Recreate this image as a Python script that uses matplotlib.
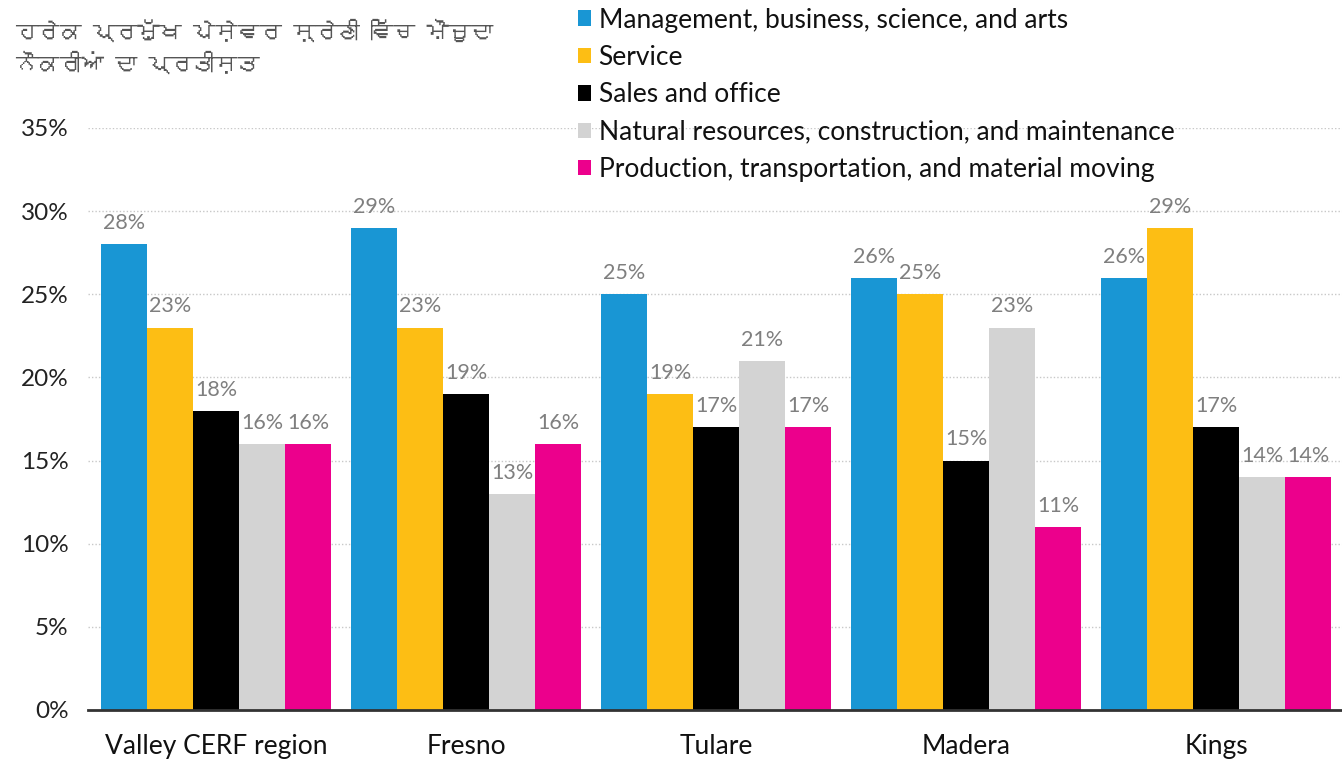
import matplotlib
matplotlib.use('Agg')
import matplotlib.pyplot as plt
import numpy as np
from matplotlib import font_manager
from matplotlib.ft2font import FT2Font
from matplotlib.patches import Patch

regions = ['Valley CERF region', 'Fresno', 'Tulare', 'Madera', 'Kings']
series = ['Management, business, science, and arts', 'Service', 'Sales and office',
          'Natural resources, construction, and maintenance',
          'Production, transportation, and material moving']
management = [28, 29, 25, 26, 26]
service = [23, 23, 19, 25, 29]
sales = [18, 19, 17, 15, 17]
natural = [16, 13, 21, 23, 14]
production = [16, 16, 17, 11, 14]
colors = ['#1996d4', '#fdbe14', '#000000', '#d3d3d3', '#ec008c']
title = 'ਹਰੇਕ ਪ੍ਰਮੁੱਖ ਪੇਸ਼ੇਵਰ ਸ਼੍ਰੇਣੀ ਵਿੱਚ ਮੌਜੂਦਾ\nਨੌਕਰੀਆਂ ਦਾ ਪ੍ਰਤੀਸ਼ਤ'


def find_font(ch):
    # look for any installed font that has this glyph
    for f in font_manager.fontManager.ttflist:
        try:
            if ord(ch) in FT2Font(f.fname).get_charmap():
                return f.name
        except Exception:
            pass
    return None


plt.rcParams['font.family'] = ['Lato', 'DejaVu Sans']
gur = find_font('ਰ')
title_fam = [gur, 'Lato', 'DejaVu Sans'] if gur else ['Lato', 'DejaVu Sans']

fig = plt.figure(figsize=(13.42, 7.6), dpi=100)
ax = fig.add_axes([0.0656, 0.0658, 0.9344, 0.7658])

values = [management, service, sales, natural, production]
x = np.arange(len(regions))
w = 0.184
for i, (vals, c) in enumerate(zip(values, colors)):
    pos = x + (i - 2) * w
    bars = ax.bar(pos, vals, width=w, color=c, zorder=3)
    for b, v in zip(bars, vals):
        ax.annotate(f'{v}%', (b.get_x() + b.get_width() / 2, v), xytext=(0, 8),
                    textcoords='offset points', ha='center', va='bottom',
                    fontsize=15.5, color='#7f7f7f')

ax.set_xlim(-0.512, 4.504)
ax.set_ylim(0, 35)
ax.set_yticks(range(0, 36, 5))
ax.set_yticklabels([f'{t}%' for t in range(0, 36, 5)], fontsize=17.5, color='#222222')
ax.set_xticks(x)
ax.set_xticklabels(regions, fontsize=19, color='#111111')
ax.tick_params(axis='both', length=0)
ax.tick_params(axis='y', pad=14)
ax.tick_params(axis='x', pad=17)
for yv in range(5, 36, 5):
    ax.axhline(yv, color='#c8c8c8', lw=1, ls=(0, (1, 1.5)), zorder=1)
for s in ['top', 'right', 'left']:
    ax.spines[s].set_visible(False)
ax.spines['bottom'].set_color('#333333')
ax.spines['bottom'].set_linewidth(2)
ax.spines['bottom'].set_zorder(4)

handles = [Patch(facecolor=c, edgecolor='none') for c in colors]
leg = fig.legend(handles, series, loc='upper left', bbox_to_anchor=(0.4225, 1.004),
                 frameon=False, fontsize=19, handlelength=0.52, handleheight=0.52,
                 handletextpad=0.28, labelspacing=0.47, borderaxespad=0)
for t in leg.get_texts():
    t.set_color('#111111')

fig.text(0.011, 0.975, title, fontsize=16, color='#555555', style='italic',
         family=title_fam, va='top', ha='left', linespacing=1.4)

fig.savefig('out.png', dpi=100)
